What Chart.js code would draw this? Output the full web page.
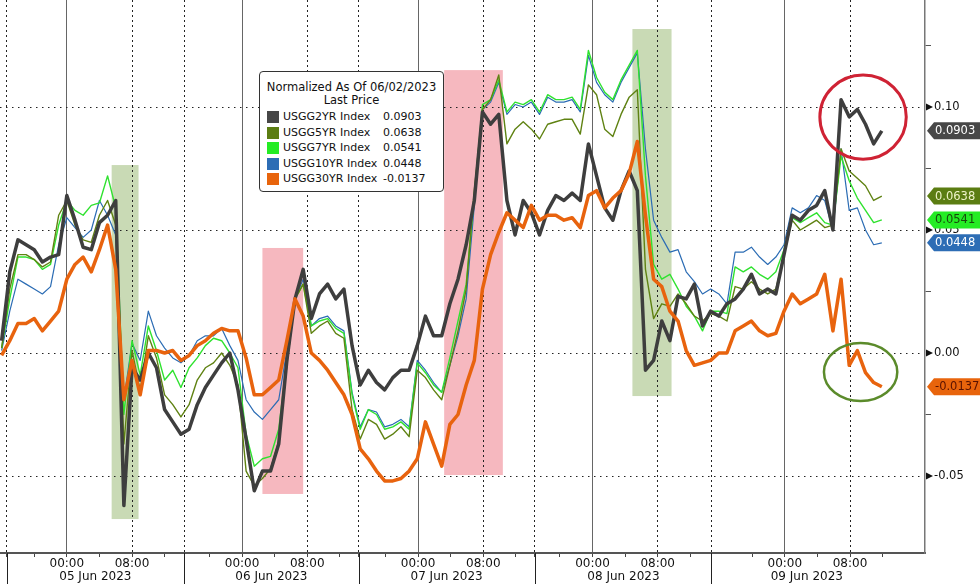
<!DOCTYPE html>
<html>
<head>
<meta charset="utf-8">
<script src="https://cdn.jsdelivr.net/npm/chart.js@4.4.1/dist/chart.umd.min.js"></script>
<style>
  html, body { margin: 0; padding: 0; background: #fff; }
  #wrap { position: relative; width: 980px; height: 584px; }
  #legendBox {
    position: absolute; left: 259px; top: 71px; width: 185px; height: 121px;
    box-sizing: border-box; border: 1.5px solid #333; border-radius: 4px; background: #fff;
    font: 11px "DejaVu Sans", sans-serif; color: #111; padding-top: 9px;
  }
  #legendBox .ttl { text-align: center; line-height: 13px; font-size: 11.5px; }
  #legendBox .rows { margin-top: 2px; }
  #legendBox .row { position: relative; height: 15.5px; line-height: 15.5px; }
  #legendBox .sw { position: absolute; left: 7px; top: 2px; width: 12px; height: 12px; }
  #legendBox .nm { position: absolute; left: 23px; }
  #legendBox .vl { position: absolute; left: 123px; }
</style>
</head>
<body>
<div id="wrap">
  <canvas id="chart"></canvas>
  <div id="legendBox">
    <div class="ttl">Normalized As Of 06/02/2023</div>
    <div class="ttl">Last Price</div>
    <div class="rows" id="legendRows"></div>
  </div>
</div>
<script>
// samples are hourly on the session clock, hour 0 = 00:00 05 Jun 2023
const firstHour = -8;

const seriesNames = ["USGG2YR Index", "USGG5YR Index", "USGG7YR Index", "USGG10YR Index", "USGG30YR Index"];

const usgg2 = [
  0.005, 0.033, 0.046, 0.044, 0.042, 0.037, 0.039, 0.040, 0.064, 0.054,
  0.043, 0.042, 0.053, 0.056, 0.062, -0.062, -0.006, -0.011, 0.000, -0.006,
  -0.023, -0.028, -0.033, -0.031, -0.021, -0.014, -0.009, -0.004, 0.000, -0.015,
  -0.035, -0.056, -0.048, -0.048, -0.037, -0.003, 0.022, 0.034, 0.014, 0.024,
  0.028, 0.022, 0.026, 0.003, -0.013, -0.007, -0.012, -0.015, -0.010, -0.007,
  -0.007, 0.003, 0.015, 0.007, 0.007, 0.020, 0.030, 0.044, 0.062, 0.098,
  0.093, 0.097, 0.062, 0.048, 0.062, 0.057, 0.048, 0.058, 0.064, 0.062,
  0.065, 0.062, 0.085, 0.072, 0.059, 0.054, 0.066, 0.074, 0.066, -0.007,
  -0.003, 0.013, 0.005, 0.023, 0.022, 0.028, 0.011, 0.017, 0.015, 0.020,
  0.022, 0.026, 0.032, 0.024, 0.026, 0.024, 0.040, 0.056, 0.054, 0.058,
  0.060, 0.066, 0.050, 0.103, 0.096, 0.099, 0.093, 0.085, 0.0903
];
const usgg5 = [
  0.002, 0.026, 0.040, 0.040, 0.038, 0.035, 0.037, 0.056, 0.062, 0.052,
  0.046, 0.045, 0.056, 0.062, 0.052, -0.037, 0.001, -0.015, 0.007, -0.002,
  -0.017, -0.021, -0.026, -0.021, -0.011, -0.006, -0.004, 0.000, -0.005, -0.013,
  -0.048, -0.054, -0.051, -0.047, -0.036, -0.005, 0.022, 0.028, 0.008, 0.011,
  0.013, 0.008, 0.006, -0.023, -0.035, -0.027, -0.029, -0.035, -0.033, -0.030,
  -0.034, -0.007, -0.010, -0.015, -0.019, -0.005, 0.009, 0.026, 0.066, 0.099,
  0.103, 0.113, 0.085, 0.091, 0.094, 0.091, 0.087, 0.093, 0.094, 0.095,
  0.095, 0.089, 0.109, 0.105, 0.091, 0.088, 0.097, 0.104, 0.107, 0.034,
  0.014, 0.020, 0.019, 0.024, 0.020, 0.015, 0.013, 0.016, 0.015, 0.013,
  0.027, 0.026, 0.029, 0.026, 0.024, 0.026, 0.040, 0.054, 0.050, 0.052,
  0.054, 0.051, 0.052, 0.083, 0.074, 0.071, 0.068, 0.062, 0.0638
];
const usgg7 = [
  0.002, 0.022, 0.039, 0.039, 0.038, 0.034, 0.036, 0.052, 0.062, 0.058,
  0.056, 0.060, 0.061, 0.072, 0.059, -0.025, 0.005, -0.009, 0.011, 0.001,
  -0.011, -0.007, -0.014, -0.006, -0.002, 0.003, 0.006, 0.005, 0.000, -0.006,
  -0.033, -0.046, -0.043, -0.042, -0.031, -0.003, 0.022, 0.028, 0.011, 0.013,
  0.014, 0.010, 0.008, -0.017, -0.031, -0.023, -0.025, -0.031, -0.030, -0.028,
  -0.031, -0.004, -0.008, -0.013, -0.016, -0.002, 0.013, 0.028, 0.064, 0.101,
  0.103, 0.111, 0.098, 0.102, 0.101, 0.103, 0.098, 0.105, 0.103, 0.103,
  0.104, 0.099, 0.123, 0.112, 0.106, 0.103, 0.111, 0.117, 0.123, 0.072,
  0.036, 0.030, 0.032, 0.026, 0.019, 0.015, 0.009, 0.017, 0.017, 0.016,
  0.035, 0.033, 0.035, 0.032, 0.030, 0.033, 0.042, 0.055, 0.053, 0.055,
  0.057, 0.053, 0.052, 0.080, 0.070, 0.063, 0.058, 0.053, 0.0541
];
const usgg10 = [
  0.001, 0.017, 0.030, 0.028, 0.026, 0.024, 0.027, 0.044, 0.055, 0.051,
  0.047, 0.050, 0.062, 0.056, 0.048, -0.019, 0.004, -0.003, 0.017, 0.007,
  0.002, -0.002, -0.004, -0.001, 0.005, 0.007, 0.007, 0.010, 0.003, -0.003,
  -0.019, -0.024, -0.027, -0.023, -0.019, 0.001, 0.022, 0.030, 0.011, 0.014,
  0.015, 0.011, 0.009, -0.016, -0.030, -0.023, -0.024, -0.030, -0.029, -0.027,
  -0.030, -0.003, -0.007, -0.012, -0.016, -0.005, 0.007, 0.022, 0.060, 0.099,
  0.102, 0.110, 0.097, 0.101, 0.100, 0.102, 0.097, 0.104, 0.102, 0.102,
  0.103, 0.098, 0.121, 0.110, 0.105, 0.102, 0.110, 0.116, 0.122, 0.083,
  0.054, 0.047, 0.041, 0.042, 0.033, 0.029, 0.024, 0.026, 0.024, 0.020,
  0.041, 0.041, 0.043, 0.039, 0.036, 0.039, 0.044, 0.059, 0.057, 0.059,
  0.064, 0.062, 0.050, 0.083, 0.058, 0.059, 0.050, 0.044, 0.0448
];
const usgg30 = [
  -0.001, 0.005, 0.012, 0.012, 0.014, 0.009, 0.013, 0.017, 0.030, 0.036,
  0.039, 0.033, 0.042, 0.052, 0.034, -0.019, -0.003, -0.017, 0.001, 0.001,
  0.000, 0.001, -0.003, -0.001, 0.003, 0.005, 0.008, 0.010, 0.009, 0.009,
  -0.002, -0.017, -0.017, -0.014, -0.011, 0.005, 0.022, 0.015, 0.000, -0.003,
  -0.007, -0.012, -0.017, -0.025, -0.039, -0.043, -0.048, -0.052, -0.052, -0.051,
  -0.048, -0.043, -0.028, -0.037, -0.046, -0.029, -0.025, -0.013, -0.003, 0.026,
  0.040, 0.049, 0.057, 0.054, 0.051, 0.060, 0.054, 0.056, 0.056, 0.054,
  0.055, 0.051, 0.064, 0.066, 0.059, 0.063, 0.066, 0.073, 0.086, 0.056,
  0.030, 0.027, 0.017, 0.013, 0.001, -0.005, -0.004, -0.003, 0.000, 0.000,
  0.009, 0.011, 0.013, 0.009, 0.007, 0.008, 0.017, 0.024, 0.020, 0.022,
  0.024, 0.032, 0.009, 0.030, -0.005, 0.001, -0.008, -0.012, -0.0137
];

// axis ticks (session clock hours)
const sessionBreaks = [-7.4, 14.4, 35.8, 57.4, 79.1];
const midnights = [0, 21.5, 43.1, 64.5, 88.1];
const dayLabels = ["05 Jun 2023", "06 Jun 2023", "07 Jun 2023", "08 Jun 2023", "09 Jun 2023"];
const dayLabelAt = [3.5, 25.1, 46.6, 68.3, 90.8];
const yMajor = [0.10, 0.05, 0.00, -0.05];
const yMinor = [0.125, 0.075, 0.025, -0.025];

const lineColors = ["#3e3e3e", "#5f8212", "#2fe22f", "#2b6cb4", "#e8630e"];
const tagColors = ["#474747", "#5b7d12", "#24ec24", "#2d6db5", "#e8640c"];
const tagText = ["#ffffff", "#eef3c8", "#174a0c", "#ffffff", "#5a1200"];
const lineWidths = [3.5, 1.4, 1.4, 1.2, 3.5];
const drawOrder = [1, 2, 3, 4, 0];

// highlighted windows and circled moves
const shadeBoxes = [
  { x0: 5.5, x1: 8.8, y0: 0.0764, y1: -0.0675, color: "#c9dab5" },
  { x0: 24.0, x1: 29.0, y0: 0.0427, y1: -0.0573, color: "#f6b8bf" },
  { x0: 46.3, x1: 53.5, y0: 0.115, y1: -0.0496, color: "#f6b8bf" },
  { x0: 69.4, x1: 74.2, y0: 0.1317, y1: -0.0175, color: "#c9dab5" }
];
const callouts = [
  { x: 97.7, y: 0.0959, rx: 5.3, ry: 0.0171, color: "#cf2234", width: 3 },
  { x: 97.4, y: -0.0077, rx: 4.5, ry: 0.0118, color: "#5b8b2b", width: 2.5 }
];

const allSeries = [usgg2, usgg5, usgg7, usgg10, usgg30];
const AXIS_FONT = { family: "DejaVu Sans", size: 12 };
const Y_FONT = { family: "DejaVu Sans", size: 11.5 };

// legend box
const rows = document.getElementById("legendRows");
seriesNames.forEach((name, i) => {
  const last = allSeries[i][allSeries[i].length - 1];
  const row = document.createElement("div");
  row.className = "row";
  row.innerHTML = `<span class="sw" style="background:${tagColors[i]}"></span>` +
    `<span class="nm">${name}</span><span class="vl">${last.toFixed(4)}</span>`;
  rows.appendChild(row);
});

// x ticks: 4-hourly marks around each midnight plus session breaks
const xTicks = [];
sessionBreaks.forEach(b => xTicks.push({ value: b, kind: "break" }));
midnights.forEach(m => {
  [-4, 0, 4, 8, 12].forEach(off => {
    const kind = off === 0 ? "mid" : off === 8 ? "eight" : "minor";
    xTicks.push({ value: m + off, kind: kind });
  });
});
xTicks.sort((a, b) => a.value - b.value);

const overlay = {
  id: "overlay",
  beforeDraw(chart) {
    const { ctx, scales: { x, y } } = chart;
    ctx.save();
    shadeBoxes.forEach(b => {
      const px0 = x.getPixelForValue(b.x0), px1 = x.getPixelForValue(b.x1);
      const py0 = y.getPixelForValue(b.y0), py1 = y.getPixelForValue(b.y1);
      ctx.fillStyle = b.color;
      ctx.fillRect(px0, py0, px1 - px0, py1 - py0);
    });
    ctx.restore();
  },
  afterDatasetsDraw(chart) {
    const { ctx, scales: { x, y } } = chart;
    ctx.save();
    callouts.forEach(c => {
      const cx = x.getPixelForValue(c.x), cy = y.getPixelForValue(c.y);
      const rx = x.getPixelForValue(c.x + c.rx) - cx;
      const ry = cy - y.getPixelForValue(c.y + c.ry);
      ctx.beginPath();
      ctx.ellipse(cx, cy, rx, ry, 0, 0, Math.PI * 2);
      ctx.strokeStyle = c.color;
      ctx.lineWidth = c.width;
      ctx.stroke();
    });
    ctx.restore();
  },
  afterDraw(chart) {
    const { ctx, chartArea, scales: { x, y } } = chart;
    ctx.save();
    // day separators run through the label band
    ctx.strokeStyle = "#222";
    ctx.lineWidth = 1;
    sessionBreaks.forEach(b => {
      const px = Math.round(x.getPixelForValue(b)) + 0.5;
      ctx.beginPath();
      ctx.moveTo(px, chartArea.bottom);
      ctx.lineTo(px, chart.height);
      ctx.stroke();
    });
    // arrow markers at major y ticks
    ctx.fillStyle = "#111";
    yMajor.forEach(v => {
      const py = y.getPixelForValue(v);
      ctx.beginPath();
      ctx.moveTo(chartArea.right + 1, py - 3.5);
      ctx.lineTo(chartArea.right + 8, py);
      ctx.lineTo(chartArea.right + 1, py + 3.5);
      ctx.closePath();
      ctx.fill();
    });
    // last value tags
    ctx.font = "11.5px 'DejaVu Sans'";
    ctx.textBaseline = "middle";
    allSeries.forEach((arr, i) => {
      const last = arr[arr.length - 1];
      const py = y.getPixelForValue(last);
      const left = chartArea.right + 2;
      ctx.beginPath();
      ctx.moveTo(left, py);
      ctx.lineTo(left + 7, py - 8.5);
      ctx.lineTo(chart.width, py - 8.5);
      ctx.lineTo(chart.width, py + 8.5);
      ctx.lineTo(left + 7, py + 8.5);
      ctx.closePath();
      ctx.fillStyle = tagColors[i];
      ctx.fill();
      ctx.fillStyle = tagText[i];
      ctx.fillText(last.toFixed(4), left + 8, py + 0.5);
    });
    ctx.restore();
  }
};

const datasets = allSeries.map((arr, i) => ({
  label: seriesNames[i],
  data: arr.map((v, k) => ({ x: firstHour + k, y: v })),
  borderColor: lineColors[i],
  borderWidth: lineWidths[i],
  pointRadius: 0,
  tension: 0,
  fill: false,
  borderJoinStyle: "round",
  order: drawOrder[i]
}));

new Chart(document.getElementById("chart"), {
  type: "line",
  data: { datasets: datasets },
  plugins: [overlay],
  options: {
    responsive: true,
    maintainAspectRatio: false,
    animation: false,
    events: [],
    layout: { padding: 0 },
    plugins: { legend: { display: false }, tooltip: { enabled: false } },
    scales: {
      x: {
        type: "linear",
        position: "bottom",
        min: -8.2,
        max: 105.3,
        weight: 0,
        afterBuildTicks: s => { s.ticks = xTicks.map(t => ({ value: t.value, kind: t.kind })); },
        afterFit: s => { s.height = 16; s.paddingLeft = 0; s.paddingRight = 0; },
        ticks: {
          autoSkip: false,
          maxRotation: 0,
          padding: 0,
          color: "#111",
          font: AXIS_FONT,
          callback: (v, idx, ticks) => {
            const k = ticks[idx].kind;
            return k === "mid" ? "00:00" : k === "eight" ? "08:00" : "";
          }
        },
        grid: {
          drawTicks: true,
          tickLength: 4,
          tickColor: "#444",
          lineWidth: 1,
          color: c => {
            const k = c.tick && c.tick.kind;
            if (k === "mid") return "#666";
            if (k === "break" || k === "eight") return "#222";
            return "rgba(0,0,0,0)";
          }
        },
        border: {
          color: "#555",
          width: 2,
          dash: c => {
            const k = c.tick && c.tick.kind;
            return (k === "break" || k === "eight") ? [2, 3] : [];
          }
        }
      },
      x2: {
        type: "linear",
        position: "bottom",
        min: -8.2,
        max: 105.3,
        weight: 1,
        afterBuildTicks: s => { s.ticks = dayLabelAt.map(v => ({ value: v })); },
        afterFit: s => { s.height = 15; s.paddingLeft = 0; s.paddingRight = 0; },
        ticks: {
          autoSkip: false,
          maxRotation: 0,
          padding: 1,
          color: "#111",
          font: AXIS_FONT,
          callback: (v, idx) => dayLabels[idx]
        },
        grid: { display: false, drawTicks: false },
        border: { display: false }
      },
      y: {
        position: "right",
        min: -0.0813,
        max: 0.1435,
        afterBuildTicks: s => { s.ticks = yMinor.concat(yMajor).sort((a, b) => b - a).map(v => ({ value: v })); },
        afterFit: s => { s.width = 55; s.paddingTop = 0; s.paddingBottom = 0; },
        ticks: {
          autoSkip: false,
          padding: 3,
          color: "#111",
          font: Y_FONT,
          callback: v => yMajor.some(m => Math.abs(m - v) < 1e-9) ? v.toFixed(2) : ""
        },
        grid: {
          drawTicks: true,
          tickLength: 6,
          lineWidth: 1,
          color: c => (c.tick && yMajor.some(m => Math.abs(m - c.tick.value) < 1e-9)) ? "#222" : "rgba(0,0,0,0)",
          tickColor: c => (c.tick && yMajor.some(m => Math.abs(m - c.tick.value) < 1e-9)) ? "rgba(0,0,0,0)" : "#555"
        },
        border: {
          color: "#777",
          width: 1.5,
          dash: c => [1.5, 4.5]
        }
      }
    }
  }
});
</script>
</body>
</html>
